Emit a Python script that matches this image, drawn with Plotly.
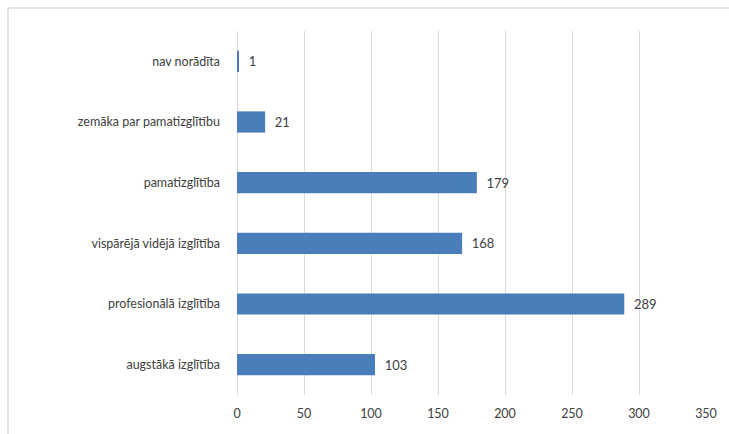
import plotly.graph_objects as go

categories = ["augstākā izglītība", "profesionālā izglītība", "vispārējā vidējā izglītība",
              "pamatizglītība", "zemāka par pamatizglītību", "nav norādīta"]
values = [103, 289, 168, 179, 21, 1]
x_ticks = [0, 50, 100, 150, 200, 250, 300, 350]

W, H = 729, 434
ml, mr, mt, mb = 237, 23, 31, 39
pw, ph = W - ml - mr, H - mt - mb

def px_x(p):
    return (p - ml) / pw

def px_y(p):
    return (H - mb - p) / ph

fig = go.Figure(go.Bar(
    y=categories, x=values, orientation="h",
    marker=dict(color="#4a7ebb", line=dict(width=0)),
    text=["\u00a0\u00a0" + str(v) for v in values], textposition="outside",
    textfont=dict(family="Lato", size=13, color="#404040"),
    cliponaxis=False,
))

fig.update_layout(
    width=W, height=H,
    margin=dict(l=ml, r=mr, t=mt, b=mb),
    paper_bgcolor="white", plot_bgcolor="white",
    bargap=0.65, showlegend=False,
    font=dict(family="Lato", size=12.5, color="#404040"),
    xaxis=dict(range=[0, 350], tickvals=x_ticks, showgrid=True, gridcolor="#d9d9d9",
               gridwidth=1, zeroline=True, zerolinecolor="#d9d9d9", zerolinewidth=1,
               showline=False, ticks="", ticklabelstandoff=9, fixedrange=True),
    yaxis=dict(showgrid=False, showline=False, ticks="", ticklabelstandoff=16,
               categoryorder="array", categoryarray=categories, fixedrange=True),
    shapes=[
        dict(type="line", xref="paper", yref="paper", x0=px_x(8), x1=px_x(740),
             y0=px_y(8), y1=px_y(8), line=dict(color="#d9d9d9", width=1.5)),
        dict(type="line", xref="paper", yref="paper", x0=px_x(8), x1=px_x(8),
             y0=px_y(8), y1=px_y(440), line=dict(color="#d9d9d9", width=1.5)),
    ],
)

fig.write_html("out.html", config={"displayModeBar": False},
               post_script="document.body.style.margin='0';")
